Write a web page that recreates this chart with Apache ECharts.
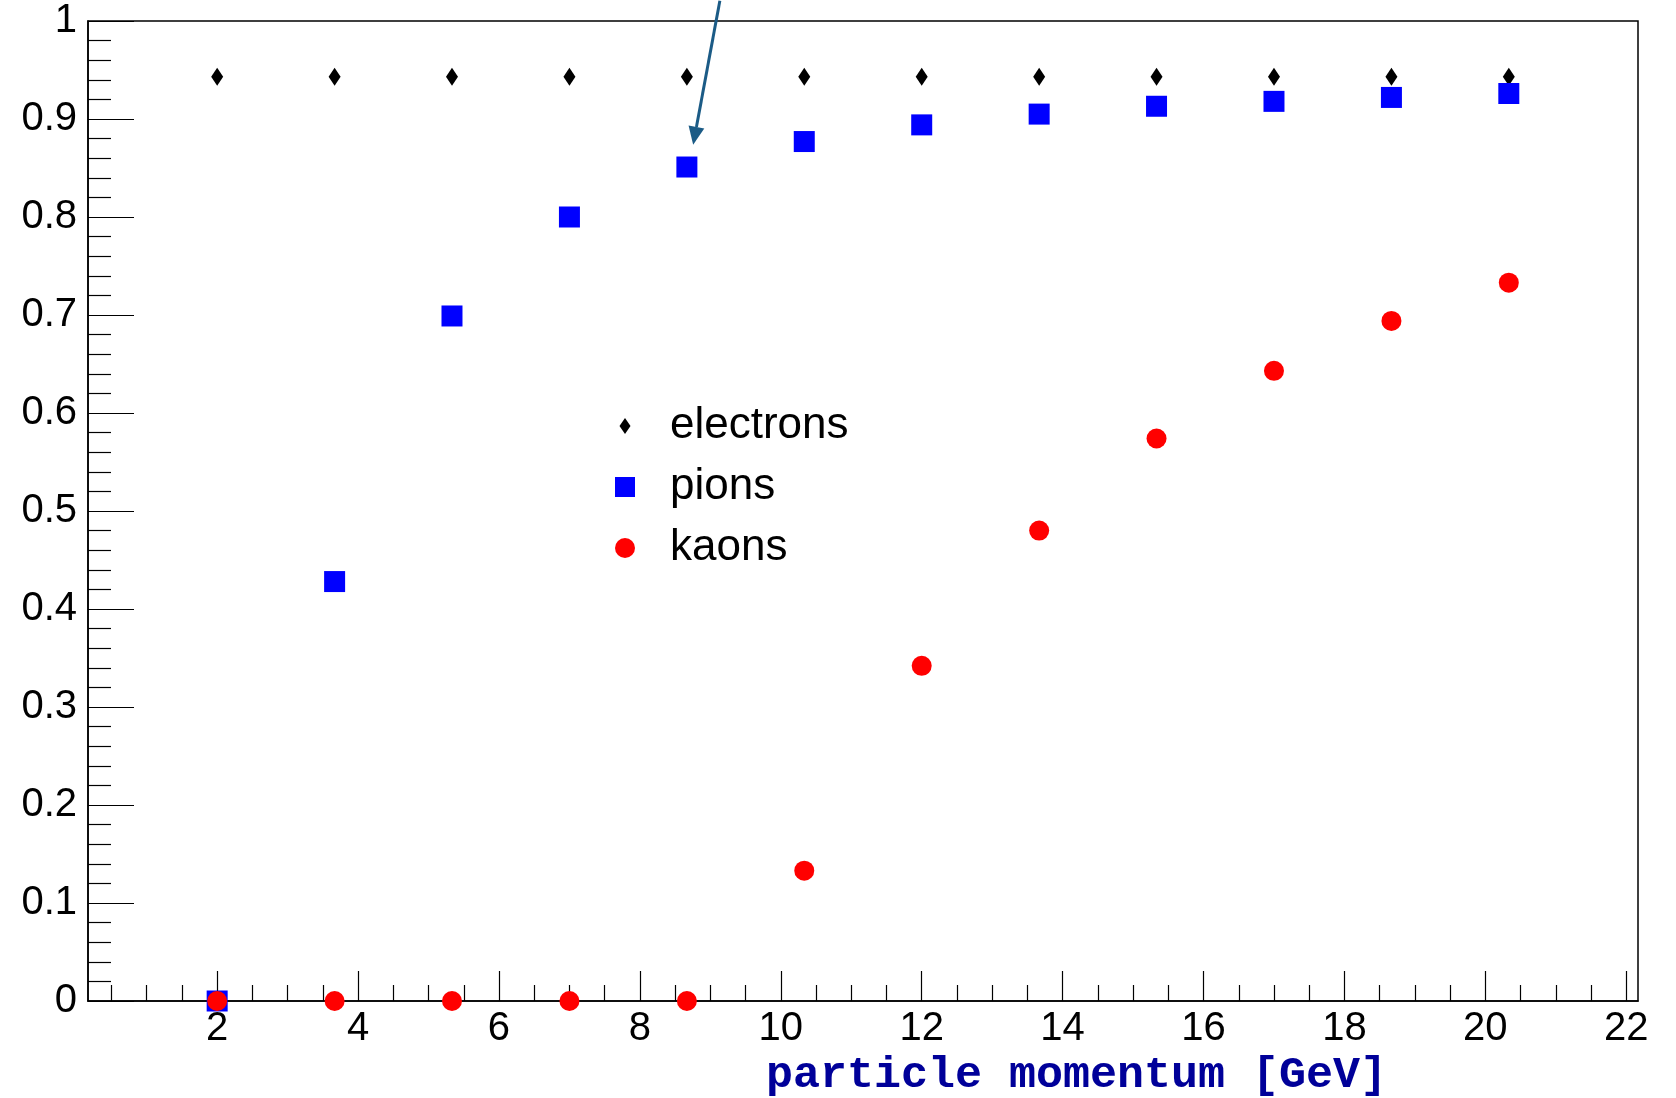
<!DOCTYPE html>
<html>
<head>
<meta charset="utf-8">
<script src="https://cdn.jsdelivr.net/npm/echarts@6/dist/echarts.min.js"></script>
<style>html,body{margin:0;padding:0;background:#fff}#c{width:1676px;height:1098px}</style>
</head>
<body>
<div id="c"></div>
<script>
// ---- data ----
const momentum = [2, 3.667, 5.333, 7, 8.667, 10.333, 12, 13.667, 15.333, 17, 18.667, 20.333];
const electrons = [0.943, 0.943, 0.943, 0.943, 0.943, 0.943, 0.943, 0.943, 0.943, 0.943, 0.943, 0.943];
const pions = [0.0, 0.428, 0.699, 0.800, 0.851, 0.877, 0.894, 0.905, 0.913, 0.918, 0.922, 0.926];
const kaons = [0.0, 0.0, 0.0, 0.0, 0.0, 0.133, 0.342, 0.480, 0.574, 0.643, 0.694, 0.733];
const xMajorTicks = [2, 4, 6, 8, 10, 12, 14, 16, 18, 20, 22];
const xMinorTicks = [0.5, 1, 1.5, 2.5, 3, 3.5, 4.5, 5, 5.5, 6.5, 7, 7.5, 8.5, 9, 9.5, 10.5, 11, 11.5,
  12.5, 13, 13.5, 14.5, 15, 15.5, 16.5, 17, 17.5, 18.5, 19, 19.5, 20.5, 21, 21.5];
const xTitle = 'particle momentum [GeV]';
const arrowFrom = [9.135, 1.0207];
const arrowTo = [8.756, 0.8738];

const pairs = (xs, ys) => xs.map((x, i) => [x, ys[i]]);

const chart = echarts.init(document.getElementById('c'), null, {renderer: 'canvas'});
const XMIN = 0.1667, XMAX = 22.1667;
const font = 'Liberation Sans, Arial, Helvetica, sans-serif';

const legendCommon = {
  orient: 'vertical', padding: 0, itemGap: 0, selectedMode: false,
  textStyle: {fontFamily: font, fontSize: 44, color: '#000', lineHeight: 50}
};

const titleGraphic = {
  type: 'text', left: 766, top: 1053,
  style: {text: xTitle, fontFamily: 'Liberation Mono, Courier New, monospace', fontWeight: 'bold', fontSize: 45, fill: '#000099'}
};

chart.setOption({
  backgroundColor: '#fff',
  animation: false,
  grid: {left: 88, right: 38, top: 21, bottom: 97, show: true, borderColor: '#000', borderWidth: 1.5, backgroundColor: 'transparent'},
  xAxis: [{
    type: 'value', min: XMIN, max: XMAX,
    splitLine: {show: false},
    axisLine: {lineStyle: {color: '#000', width: 1.5}},
    axisTick: {inside: true, length: 30, lineStyle: {color: '#000', width: 1.2}, customValues: xMajorTicks},
    axisLabel: {customValues: xMajorTicks, fontFamily: font, fontSize: 40, color: '#000', margin: 8}
  }, {
    type: 'value', min: XMIN, max: XMAX, position: 'bottom',
    splitLine: {show: false},
    axisLine: {show: false},
    axisTick: {inside: true, length: 16, lineStyle: {color: '#000', width: 1.2}, customValues: xMinorTicks},
    axisLabel: {show: false}
  }],
  yAxis: {
    type: 'value', min: 0, max: 1, interval: 0.1,
    splitLine: {show: false},
    axisLine: {show: true, lineStyle: {color: '#000', width: 1.5}},
    axisTick: {inside: true, length: 46, lineStyle: {color: '#000', width: 1.2}},
    minorTick: {show: true, splitNumber: 5, length: 23, lineStyle: {color: '#000', width: 1.2}},
    axisLabel: {fontFamily: font, fontSize: 40, color: '#000', margin: 11}
  },
  legend: [
    Object.assign({}, legendCommon, {data: [{name: 'electrons', icon: 'diamond'}], left: 619.5, top: 401, itemWidth: 11, itemHeight: 16,
      textStyle: Object.assign({}, legendCommon.textStyle, {padding: [0, 0, 0, 34.5]})}),
    Object.assign({}, legendCommon, {data: [{name: 'pions', icon: 'rect'}], left: 615, top: 462, itemWidth: 20, itemHeight: 20,
      textStyle: Object.assign({}, legendCommon.textStyle, {padding: [0, 0, 0, 30]})}),
    Object.assign({}, legendCommon, {data: [{name: 'kaons', icon: 'circle'}], left: 615, top: 523, itemWidth: 20, itemHeight: 20,
      textStyle: Object.assign({}, legendCommon.textStyle, {padding: [0, 0, 0, 30]})})
  ],
  series: [
    {name: 'electrons', type: 'scatter', symbol: 'diamond', symbolSize: [12, 18], itemStyle: {color: '#000', opacity: 1}, data: pairs(momentum, electrons), z: 3},
    {name: 'pions', type: 'scatter', symbol: 'rect', symbolSize: 21, itemStyle: {color: '#0000ff', opacity: 1}, data: pairs(momentum, pions), z: 4},
    {name: 'kaons', type: 'scatter', symbol: 'circle', symbolSize: 20, itemStyle: {color: '#ff0000', opacity: 1}, data: pairs(momentum, kaons), z: 5}
  ],
  graphic: [titleGraphic]
});

// arrow annotation, positioned via the chart's own scales
const p0 = chart.convertToPixel({xAxisIndex: 0, yAxisIndex: 0}, arrowFrom);
const p1 = chart.convertToPixel({xAxisIndex: 0, yAxisIndex: 0}, arrowTo);
const dx = p1[0] - p0[0], dy = p1[1] - p0[1];
const L = Math.hypot(dx, dy), ux = dx / L, uy = dy / L;
const headLen = 18, headW = 8;
const bx = p1[0] - ux * headLen, by = p1[1] - uy * headLen;
chart.setOption({
  graphic: [titleGraphic, {
    type: 'line', shape: {x1: p0[0], y1: p0[1], x2: bx, y2: by}, style: {stroke: '#1b5b86', lineWidth: 3}, z: 10
  }, {
    type: 'polygon', shape: {points: [[p1[0], p1[1]], [bx - uy * headW, by + ux * headW], [bx + uy * headW, by - ux * headW]]},
    style: {fill: '#1b5b86'}, z: 10
  }]
});
</script>
</body>
</html>
